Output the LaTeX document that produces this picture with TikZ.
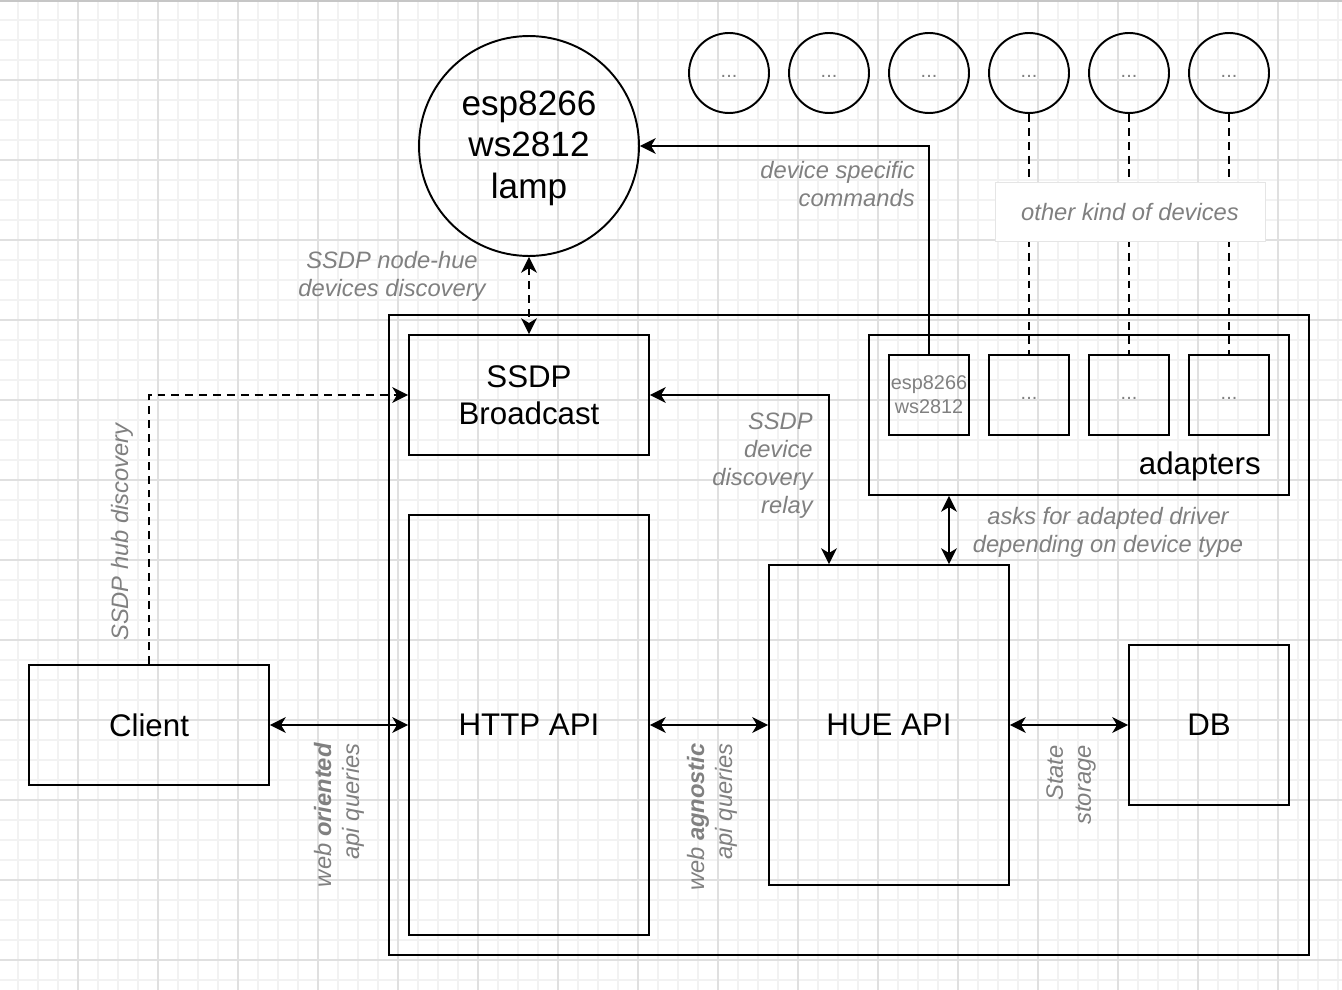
\documentclass[tikz,border=0pt]{standalone}
\usepackage{fontspec}
\setmainfont{Liberation Sans}
\usetikzlibrary{
    arrows.meta,
    calc
}
\definecolor{gridminor}{HTML}{F2F2F2}
\definecolor{gridmajor}{HTML}{E0E0E0}
\definecolor{labelgray}{HTML}{808080}
\tikzset{
    box/.style={draw, line width=1.1pt, inner sep=0pt, align=center, font=\fontsize{17.8}{21}\selectfont},
    smallbox/.style={draw, line width=1.1pt, inner sep=0pt, align=center, minimum size=1.6cm, text=labelgray, font=\fontsize{11.3}{13.6}\selectfont},
    device/.style={circle, draw, line width=1.1pt, inner sep=0pt, minimum size=1.6cm, text=labelgray, font=\fontsize{11.3}{13.6}\selectfont},
    lbl/.style={inner sep=0pt, text=labelgray, align=right, font=\fontsize{13.5}{16}\selectfont\itshape},
    link/.style={line width=1.1pt},
    dashlink/.style={line width=1.1pt, dash pattern=on 4.5pt off 3.4pt}
}

\begin{document}
\begin{tikzpicture}[x=0.02cm, y=-0.02cm, >={Stealth[length=9pt, width=9pt, inset=2.7pt]}]
    \useasboundingbox (0,0) rectangle (1342,990);
    % background grid
    \foreach \x in {18,38,...,1338} \draw[gridminor, line width=0.6pt] (\x,0) -- (\x,990);
    \foreach \y in {20,40,...,980} \draw[gridminor, line width=0.6pt] (0,\y) -- (1342,\y);
    \foreach \x in {78,158,...,1318} \draw[gridmajor, line width=0.6pt] (\x,0) -- (\x,990);
    \foreach \y in {80,160,...,960} \draw[gridmajor, line width=0.6pt] (0,\y) -- (1342,\y);
    \draw[gray!45, line width=1.2pt] (0,1) -- (1342,1);

    % devices
    \node[circle, draw, line width=1.1pt, minimum size=4.4cm, align=center, font=\fontsize{20}{23.8}\selectfont] (lamp) at (529,146) {\strut esp8266\\ws2812\\lamp};
    \foreach \i in {1,...,6}
        \node[device] (dev\i) at ({629+100*\i},73) {\strut...};

    % hub
    \node[box, minimum width=18.4cm, minimum height=12.8cm] (hub) at (849,635) {};
    \node[box, minimum width=4.8cm, minimum height=2.4cm] (ssdp) at (529,395) {SSDP\\Broadcast};
    \node[box, minimum width=8.4cm, minimum height=3.2cm] (adapters) at (1079,415) {};
    \node[anchor=base east, inner sep=0pt, font=\fontsize{17.8}{21}\selectfont] (adlabel) at (1261,474) {adapters};
    \node[smallbox] (ad1) at (929,395) {esp8266\\ws2812};
    \foreach \i in {2,3,4}
        \node[smallbox] (ad\i) at ({829+100*\i},395) {\strut...};
    \node[box, minimum width=4.8cm, minimum height=8.4cm] (http) at (529,725) {HTTP API};
    \node[box, minimum width=4.8cm, minimum height=6.4cm] (hue) at (889,725) {HUE API};
    \node[box, minimum width=3.2cm, minimum height=3.2cm] (db) at (1209,725) {DB};
    \node[box, minimum width=4.8cm, minimum height=2.4cm] (client) at (149,725) {Client};

    % connectors
    \draw
    (client) edge[link, <->] (http)
    (http) edge[link, <->] (hue)
    (hue) edge[link, <->] (db)
    (lamp) edge[dashlink, <->] (ssdp)
    (dev4) edge[dashlink] (ad2)
    (dev5) edge[dashlink] (ad3)
    (dev6) edge[dashlink] (ad4);
    \draw[link, ->] (ad1.north) |- (lamp.east);
    \draw[link, <->] ($(hue.north)+(-60,0)$) |- (ssdp.east);
    \draw[dashlink, ->] (client.north) |- (ssdp.west);
    \draw[link, <->] (adapters.south -| {$(hue.north)+(60,0)$}) -- ($(hue.north)+(60,0)$);

    % labels
    \node[lbl, draw=gray!20, fill=white, minimum width=5.4cm, minimum height=1.18cm] (others) at (1130,212) {other kind of devices};
    \node[lbl, anchor=east] (cmdlbl) at (915,184) {device specific\\commands};
    \node[lbl, align=center] (ndlbl) at (392,276) {SSDP node-hue\\devices discovery};
    \node[lbl, anchor=east] (relaylbl) at (813,466) {SSDP\\device\\discovery\\relay};
    \node[lbl, align=center] (drvlbl) at (1108,532) {asks for adapted driver\\depending on device type};
    \node[lbl, rotate=90] (hublbl) at (122,532) {SSDP hub discovery};
    \node[lbl, rotate=90, anchor=east] (weblbl) at (339,743) {web \textbf{oriented}\\api queries};
    \node[lbl, rotate=90, anchor=east] (aglbl) at (712,743) {web \textbf{agnostic}\\api queries};
    \node[lbl, rotate=90, anchor=east] (dblbl) at (1071,745) {State\\storage};
\end{tikzpicture}
\end{document}
